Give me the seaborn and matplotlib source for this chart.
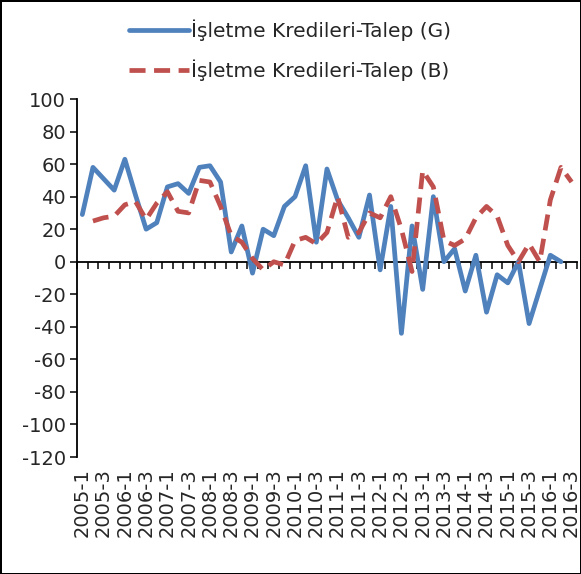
import numpy as np
import pandas as pd
import matplotlib
matplotlib.use('Agg')
import matplotlib.pyplot as plt
import seaborn as sns

# quarters 2005-1 .. 2016-3
years = np.repeat(np.arange(2005, 2017), 4)[:47]
quarters = np.tile([1, 2, 3, 4], 12)[:47]
labels = [f'{y}-{q}' for y, q in zip(years, quarters)]

talep_g = [29, 58, 51, 44, 63, 41, 20, 24, 46, 48, 42, 58, 59, 49, 6, 22, -7, 20,
           16, 34, 40, 59, 12, 57, 38, 27, 15, 41, -5, 34, -44, 22, -17, 40, 0, 8,
           -18, 4, -31, -8, -13, 0, -38, -17, 4, 0, np.nan]
talep_b = [np.nan, 25, 27, 28, 35, 37, 26, 36, 43, 31, 30, 50, 49, 34, 16, 12, 2,
           -5, 0, -2, 13, 15, 11, 18, 40, 15, 18, 30, 27, 40, 20, -6, 56, 46, 13, 10,
           14, 27, 34, 28, 10, 0, 11, 0, 38, 58, 49]

df = pd.DataFrame({'idx': np.arange(len(labels)), 'label': labels,
                   'G': talep_g, 'B': talep_b})

sns.set_style('white')
plt.rcParams['font.family'] = ['DejaVu Sans']
plt.rcParams['axes.unicode_minus'] = False

fig = plt.figure(figsize=(5.81, 5.74), dpi=100)
ax = fig.add_axes([0.1325, 0.2038, 0.8605, 0.6237])

blue = '#4F81BD'
red = '#C0504D'
sns.lineplot(data=df.dropna(subset=['G']), x='idx', y='G', ax=ax, color=blue,
             linewidth=3.4, label='İşletme Kredileri-Talep (G)')
sns.lineplot(data=df.dropna(subset=['B']), x='idx', y='B', ax=ax, color=red,
             linewidth=3.4, linestyle=(0, (3.4, 1.8)), label='İşletme Kredileri-Talep (B)')

ax.set_xlim(-0.5, len(labels) - 0.5)
ax.set_ylim(-120, 100)
ax.set_yticks(np.arange(-120, 101, 20))
ax.set_xticks(df['idx'][::2])
ax.set_xticklabels(df['label'][::2], rotation=90)
ax.set_xlabel('')
ax.set_ylabel('')
ax.tick_params(axis='x', length=0, pad=8, labelsize=14)
ax.tick_params(axis='y', length=5, width=1.3, direction='out', left=True,
               labelsize=14, pad=3)

for s in ['top', 'right', 'bottom']:
    ax.spines[s].set_visible(False)
ax.spines['left'].set_color('black')
ax.spines['left'].set_linewidth(1.3)

# category axis crossing at zero, ticks between categories
zero_ax = ax.secondary_xaxis(120 / 220)
zero_ax.set_alignment('bottom')
zero_ax.set_xticks(np.arange(-0.5, len(labels), 1))
zero_ax.tick_params(axis='x', length=5, width=1.3, direction='out',
                    labelbottom=False, labeltop=False)
zero_ax.spines['bottom'].set_linewidth(1.3)
zero_ax.spines['bottom'].set_color('black')

handles, lbls = ax.get_legend_handles_labels()
ax.get_legend().remove()
fig.legend(handles, lbls, loc='upper left', bbox_to_anchor=(0.19, 0.998),
           frameon=False, fontsize=14.5, handlelength=3.0, handletextpad=0.1,
           labelspacing=0.95)

fig.patch.set_edgecolor('black')
fig.patch.set_linewidth(2)
fig.savefig('out.png', dpi=100, edgecolor=fig.get_edgecolor())
